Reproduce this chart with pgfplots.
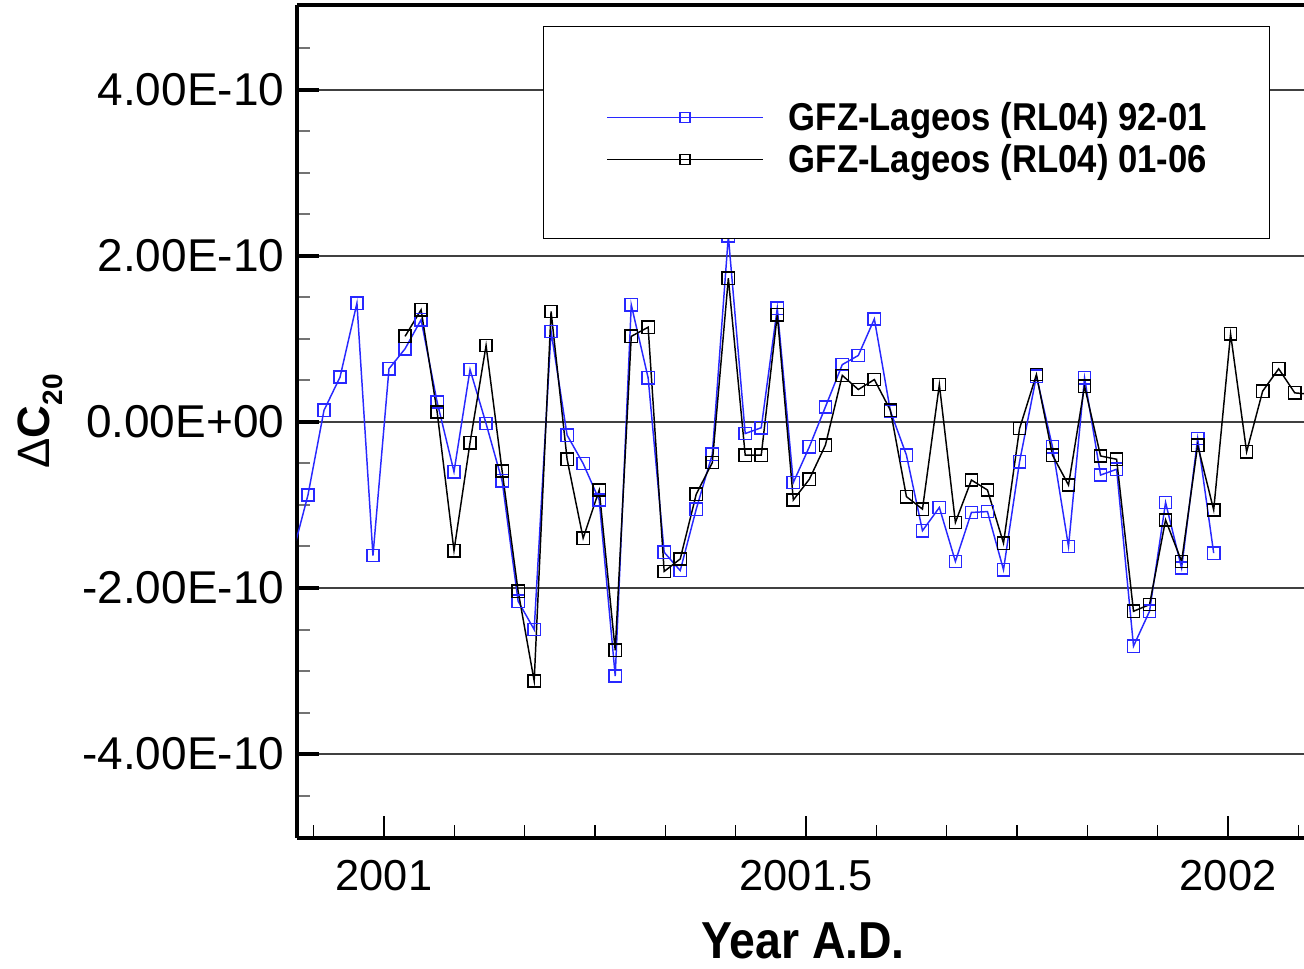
\documentclass[border=0pt]{standalone}
\usepackage{fontspec}
\setmainfont{Liberation Sans}
\usepackage{graphicx}
\usepackage{pgfplots}
\usepackage{pgfplotstable}
\pgfplotsset{compat=1.18}
\definecolor{serblue}{RGB}{40,40,255}
% slightly taller lettering for labels and legend
\newcommand{\vs}[1]{\scalebox{1}[1.12]{#1}}

% weekly Delta C20 estimates, solution 92-01
\pgfplotstableread{
x y
2000.891 -1.62e-10
2000.910 -0.88e-10
2000.929 0.14e-10
2000.948 0.54e-10
2000.968 1.43e-10
2000.987 -1.61e-10
2001.006 0.64e-10
2001.025 0.88e-10
2001.044 1.23e-10
2001.063 0.24e-10
2001.083 -0.60e-10
2001.102 0.63e-10
2001.121 -0.02e-10
2001.140 -0.71e-10
2001.159 -2.16e-10
2001.178 -2.50e-10
2001.198 1.09e-10
2001.217 -0.16e-10
2001.236 -0.50e-10
2001.255 -0.94e-10
2001.274 -3.06e-10
2001.293 1.41e-10
2001.313 0.53e-10
2001.332 -1.57e-10
2001.351 -1.79e-10
2001.370 -1.05e-10
2001.389 -0.39e-10
2001.408 2.24e-10
2001.428 -0.14e-10
2001.447 -0.07e-10
2001.466 1.37e-10
2001.485 -0.73e-10
2001.504 -0.30e-10
2001.523 0.18e-10
2001.543 0.69e-10
2001.562 0.80e-10
2001.581 1.24e-10
2001.600 0.13e-10
2001.619 -0.40e-10
2001.638 -1.31e-10
2001.658 -1.03e-10
2001.677 -1.68e-10
2001.696 -1.09e-10
2001.715 -1.08e-10
2001.734 -1.78e-10
2001.753 -0.48e-10
2001.773 0.55e-10
2001.792 -0.30e-10
2001.811 -1.50e-10
2001.830 0.53e-10
2001.849 -0.64e-10
2001.868 -0.57e-10
2001.888 -2.70e-10
2001.907 -2.28e-10
2001.926 -0.97e-10
2001.945 -1.76e-10
2001.964 -0.20e-10
2001.983 -1.58e-10
}\solA

% weekly Delta C20 estimates, solution 01-06
\pgfplotstableread{
x y
2001.025 1.03e-10
2001.044 1.35e-10
2001.063 0.12e-10
2001.083 -1.55e-10
2001.102 -0.25e-10
2001.121 0.92e-10
2001.140 -0.59e-10
2001.159 -2.04e-10
2001.178 -3.12e-10
2001.198 1.33e-10
2001.217 -0.45e-10
2001.236 -1.40e-10
2001.255 -0.82e-10
2001.274 -2.75e-10
2001.293 1.03e-10
2001.313 1.14e-10
2001.332 -1.80e-10
2001.351 -1.65e-10
2001.370 -0.87e-10
2001.389 -0.49e-10
2001.408 1.73e-10
2001.428 -0.40e-10
2001.447 -0.40e-10
2001.466 1.29e-10
2001.485 -0.94e-10
2001.504 -0.69e-10
2001.523 -0.28e-10
2001.543 0.56e-10
2001.562 0.39e-10
2001.581 0.51e-10
2001.600 0.14e-10
2001.619 -0.90e-10
2001.638 -1.05e-10
2001.658 0.45e-10
2001.677 -1.21e-10
2001.696 -0.70e-10
2001.715 -0.82e-10
2001.734 -1.46e-10
2001.753 -0.08e-10
2001.773 0.57e-10
2001.792 -0.40e-10
2001.811 -0.76e-10
2001.830 0.43e-10
2001.849 -0.41e-10
2001.868 -0.45e-10
2001.888 -2.28e-10
2001.907 -2.20e-10
2001.926 -1.18e-10
2001.945 -1.68e-10
2001.964 -0.28e-10
2001.983 -1.06e-10
2002.003 1.06e-10
2002.022 -0.36e-10
2002.041 0.37e-10
2002.060 0.64e-10
2002.079 0.35e-10
2002.099 0.33e-10
}\solB

\begin{document}
\begin{tikzpicture}
\begin{axis}[
  name=ax,
  scale only axis,
  width=755.25pt, height=624.75pt,
  xmin=2000.897, xmax=2002.090,
  ymin=-5.01e-10, ymax=5.02e-10,
  axis x line*=box, axis y line*=left,
  axis line style={line width=3pt},
  xtick pos=left, ytick pos=left,
  xticklabel pos=left, yticklabel pos=left,
  xtick={2001,2001.5,2002},
  xticklabels={2001,2001.5,2002},
  minor xtick={2000.91667,2001.08333,2001.16667,2001.25,2001.33333,2001.41667,2001.58333,2001.66667,2001.75,2001.83333,2001.91667,2002.08333},
  ytick={-4e-10,-2e-10,0,2e-10,4e-10},
  yticklabels={-4.00E-10,-2.00E-10,0.00E+00,2.00E-10,4.00E-10},
  minor ytick={-4.5e-10,-3.5e-10,-3e-10,-2.5e-10,-1.5e-10,-1e-10,-0.5e-10,0.5e-10,1e-10,1.5e-10,2.5e-10,3e-10,3.5e-10,4.5e-10},
  scaled x ticks=false, scaled y ticks=false,
  /pgf/number format/assume math mode=true,
  tick align=inside,
  major tick length=16.5pt, minor tick length=9.5pt,
  every major y tick/.append style={line width=3pt, black},
  every minor y tick/.append style={line width=1.5pt, black!55},
  every major x tick/.append style={line width=1.6pt, black},
  every minor x tick/.append style={line width=1.1pt, black},
  yticklabel style={font=\fontsize{34.5}{34.5}\selectfont, xshift=-6pt},
  xticklabel style={font=\fontsize{32.5}{32.5}\selectfont, yshift=-13pt},
  ymajorgrids,
  major grid style={line width=1.4pt, black!75},
  xlabel={\vs{Year A.D.}},
  xlabel style={at={(axis description cs:0.5025,-0.1235)}, anchor=center, inner sep=0pt, font=\fontsize{34.8}{34.8}\selectfont\bfseries},
  ylabel={Δ\textbf{C}\raisebox{-9.75pt}{\fontsize{21}{21}\selectfont\bfseries 20}},
  ylabel style={at={(axis description cs:-0.255,0.5)}, anchor=center, rotate=0, font=\fontsize{34}{34}\selectfont},
  legend cell align=left,
  legend style={at={(0.2443,0.9748)}, anchor=north west, draw=black, line width=1.1pt, fill=white,
    inner xsep=47pt, inner ysep=49.1pt, font=\fontsize{26}{26}\selectfont\bfseries,
    cells={anchor=base west},
    nodes={inner sep=0pt, text height=28.5pt, text depth=0.75pt},
    column sep=18.75pt, row sep=2.25pt},
  legend image code/.code={\draw[mark repeat=2, mark phase=2, #1, mark size=3.75pt]
    plot coordinates {(0pt,9.6pt) (58.5pt,9.6pt) (117pt,9.6pt)};},
]
\addplot[serblue, line width=1.1pt, mark=square, mark size=4.6pt, mark options={line width=1.1pt}] table[x=x, y=y] {\solA};
\addlegendentry{\vs{GFZ-Lageos (RL04) 92-01}}
\addplot[black, line width=1.1pt, mark=square, mark size=4.6pt, mark options={line width=1.1pt}] table[x=x, y=y] {\solB};
\addlegendentry{\vs{GFZ-Lageos (RL04) 01-06}}
\end{axis}
\pgfresetboundingbox
\path[use as bounding box] ([xshift=-222.75pt, yshift=-98.25pt]ax.south west) rectangle ([yshift=3.75pt]ax.north east);
\end{tikzpicture}
\end{document}
